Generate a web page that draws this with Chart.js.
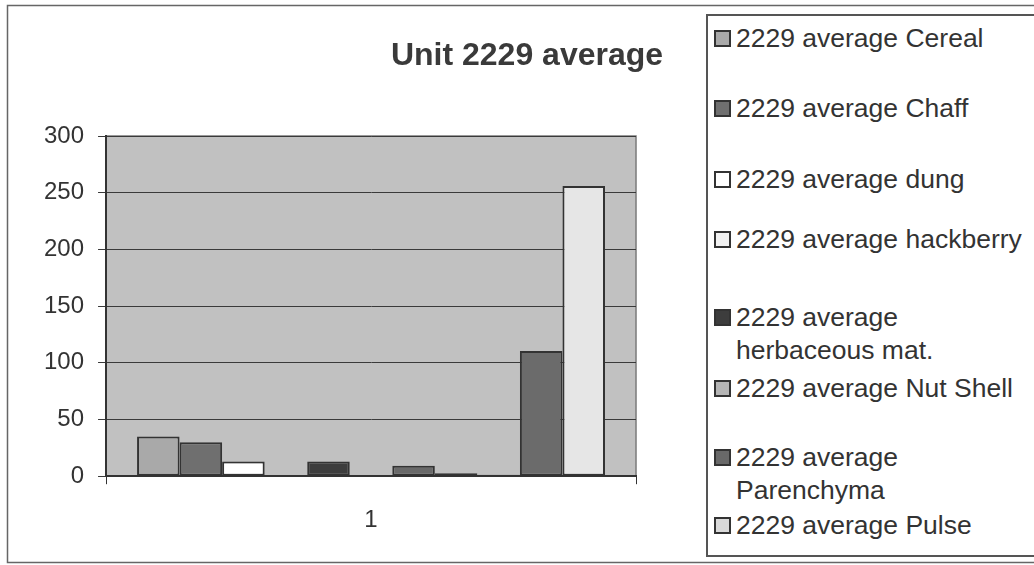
<!DOCTYPE html>
<html>
<head>
<meta charset="utf-8">
<title>Unit 2229 average</title>
<script src="https://cdn.jsdelivr.net/npm/chart.js@4.4.0/dist/chart.umd.min.js"></script>
<style>
  html, body { margin: 0; padding: 0; background: #fff; }
  #wrap { position: relative; width: 1034px; height: 565px; overflow: hidden; }
  #legend {
    position: absolute; left: 706px; top: 14px; width: 360px; height: 543px;
    border: 2px solid #555; box-sizing: border-box; background: #fff;
    font-family: "Liberation Sans", Arial, sans-serif; font-size: 26.5px; color: #333;
  }
  .item { position: absolute; left: 6px; display: flex; align-items: flex-start; line-height: 33px; }
  .sw { flex: none; width: 17px; height: 17px; border: 2px solid #333; box-sizing: border-box; margin-top: 8px; margin-right: 5px; }
  .txt { width: 298px; }
</style>
</head>
<body>
<div id="wrap">
  <canvas id="chart" width="1034" height="565"></canvas>
  <div id="legend"></div>
</div>
<script>
const titleText = 'Unit 2229 average';
const categories = ['1'];
const seriesNames = [
  '2229 average Cereal',
  '2229 average Chaff',
  '2229 average dung',
  '2229 average hackberry',
  '2229 average herbaceous mat.',
  '2229 average Nut Shell',
  '2229 average Parenchyma',
  '2229 average Pulse',
  '2229 average (series 9)',
  '2229 average (series 10)',
  '2229 average (series 11)'
];
const seriesValues = [35, 30, 13, 0, 13, 0.5, 9.3, 2.7, 1.2, 110.5, 256];
const yTicks = [0, 50, 100, 150, 200, 250, 300];

// fills, in series order
const seriesColors = ['#a9a9a9', '#6f6f6f', '#ffffff', '#f2f2f2', '#3d3d3d', '#b5b5b5',
                      '#696969', '#d9d9d9', '#8a8a8a', '#6b6b6b', '#e6e6e6'];
const legendShown = 8;             // the original legend is cut after 8 entries
const legendTops = [6, 76, 147, 207, 285, 356, 425, 493];

const chartFrame = {
  id: 'chartFrame',
  beforeDraw(chart) {
    const { ctx, chartArea: a } = chart;
    ctx.save();
    ctx.fillStyle = '#c1c1c1';
    ctx.fillRect(a.left, a.top, a.width, a.height);
    ctx.strokeStyle = '#7a7a7a';
    ctx.lineWidth = 1.5;
    ctx.strokeRect(a.left, a.top, a.width, a.height);
    // outer chart frame
    ctx.strokeStyle = '#666';
    ctx.lineWidth = 1.5;
    ctx.beginPath();
    ctx.moveTo(1034, 5.5);
    ctx.lineTo(7.5, 5.5);
    ctx.lineTo(7.5, 562.5);
    ctx.lineTo(1034, 562.5);
    ctx.stroke();
    ctx.fillStyle = '#3a3a3a';
    ctx.font = 'bold 32px "Liberation Sans", Arial, sans-serif';
    ctx.textAlign = 'center';
    ctx.textBaseline = 'middle';
    ctx.fillText(titleText, 527, 56);
    ctx.restore();
  }
};

const datasets = seriesNames.map((name, i) => ({
  label: name,
  data: [seriesValues[i]],
  backgroundColor: seriesColors[i],
  borderColor: '#333',
  borderWidth: 2,
  borderSkipped: false,
  categoryPercentage: 0.883,
  barPercentage: 1.0
}));

const chart = new Chart(document.getElementById('chart'), {
  type: 'bar',
  data: { labels: categories, datasets: datasets },
  options: {
    responsive: false,
    animation: false,
    layout: { padding: { left: 30, right: 398, top: 136, bottom: 8 } },
    plugins: {
      legend: { display: false },
      tooltip: { enabled: false },
      title: { display: false }
    },
    scales: {
      x: {
        grid: { display: true, drawOnChartArea: false, drawTicks: true, tickLength: 8, color: '#333' },
        border: { color: '#333', width: 2 },
        ticks: { color: '#333', padding: 22, font: { family: '"Liberation Sans", Arial, sans-serif', size: 24 } }
      },
      y: {
        min: yTicks[0],
        max: yTicks[yTicks.length - 1],
        afterBuildTicks: (axis) => { axis.ticks = yTicks.map(v => ({ value: v })); },
        grid: { color: '#3a3a3a', lineWidth: 1, tickLength: 8 },
        border: { color: '#333', width: 2 },
        ticks: { color: '#333', padding: 14, font: { family: '"Liberation Sans", Arial, sans-serif', size: 24 } }
      }
    }
  },
  plugins: [chartFrame]
});

// legend box, built from the chart's own datasets
const legendEl = document.getElementById('legend');
chart.data.datasets.slice(0, legendShown).forEach((ds, i) => {
  const item = document.createElement('div');
  item.className = 'item';
  item.style.top = legendTops[i] + 'px';
  const sw = document.createElement('span');
  sw.className = 'sw';
  sw.style.background = ds.backgroundColor;
  const txt = document.createElement('span');
  txt.className = 'txt';
  txt.textContent = ds.label;
  item.appendChild(sw);
  item.appendChild(txt);
  legendEl.appendChild(item);
});
</script>
</body>
</html>
